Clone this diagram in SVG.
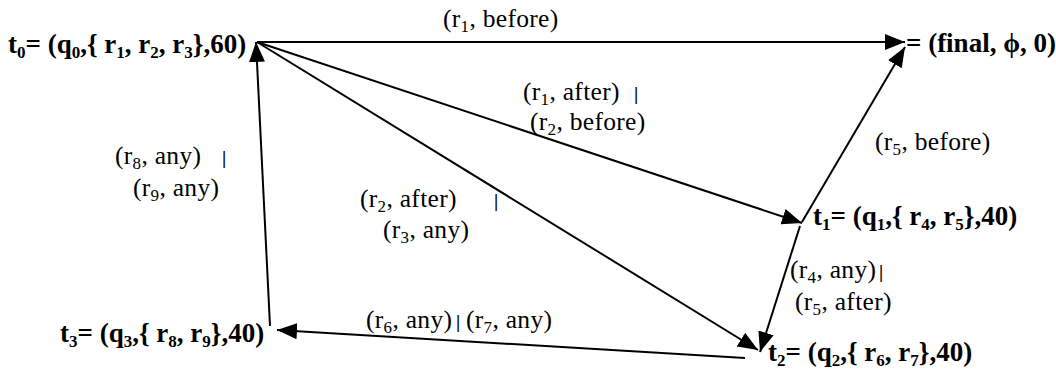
<svg xmlns="http://www.w3.org/2000/svg" width="1056" height="371" viewBox="0 0 1056 371">
<style>
.n{font-family:"Liberation Serif","Times New Roman",serif;font-weight:bold;font-size:27px;fill:#000}
.l{font-family:"Liberation Serif","Times New Roman",serif;font-size:25.5px;letter-spacing:0.3px;fill:#000}
.n .s{font-size:17px}
.l .s{font-size:17px}
.l .b{font-size:19px;font-weight:bold}
.e{stroke:#000;stroke-width:2;fill:none;marker-end:url(#ah)}
</style>
<defs>
<marker id="ah" markerUnits="userSpaceOnUse" markerWidth="22" markerHeight="16" refX="20" refY="8" orient="auto">
<path d="M0,0 L20,8 L0,16 z" fill="#000"/>
</marker>
</defs>
<rect width="1056" height="371" fill="#fff"/>
<g id="edges">
<line class="e" x1="257" y1="42" x2="905" y2="42"/>
<line class="e" x1="257" y1="42" x2="802" y2="223"/>
<line class="e" x1="257" y1="42" x2="758" y2="350"/>
<line class="e" x1="802" y1="222" x2="905" y2="47"/>
<line class="e" x1="800" y1="226" x2="760" y2="352"/>
<line class="e" x1="745" y1="358" x2="277" y2="330"/>
<line class="e" x1="270" y1="326" x2="256" y2="42"/>
<text class="l" x="443" y="27">(r<tspan class="s" dy="5">1</tspan><tspan dy="-5">, before)</tspan></text>
<text class="l" x="523" y="100">(r<tspan class="s" dy="5">1</tspan><tspan dy="-5">, after)</tspan><tspan class="b" x="634">|</tspan></text>
<text class="l" x="530" y="130">(r<tspan class="s" dy="5">2</tspan><tspan dy="-5">, before)</tspan></text>
<text class="l" x="875" y="150">(r<tspan class="s" dy="5">5</tspan><tspan dy="-5">, before)</tspan></text>
<text class="l" x="115" y="164">(r<tspan class="s" dy="5">8</tspan><tspan dy="-5">, any)</tspan><tspan class="b" x="222">|</tspan></text>
<text class="l" x="133" y="196">(r<tspan class="s" dy="5">9</tspan><tspan dy="-5">, any)</tspan></text>
<text class="l" x="360" y="207">(r<tspan class="s" dy="5">2</tspan><tspan dy="-5">, after)</tspan><tspan class="b" x="494">|</tspan></text>
<text class="l" x="383" y="238">(r<tspan class="s" dy="5">3</tspan><tspan dy="-5">, any)</tspan></text>
<text class="l" x="790" y="278">(r<tspan class="s" dy="5">4</tspan><tspan dy="-5">, any)</tspan><tspan class="b" x="879">|</tspan></text>
<text class="l" x="795" y="310">(r<tspan class="s" dy="5">5</tspan><tspan dy="-5">, after)</tspan></text>
<text class="l" x="366" y="328">(r<tspan class="s" dy="5">6</tspan><tspan dy="-5">, any)</tspan><tspan class="b" x="456">|</tspan><tspan x="466">(r</tspan><tspan class="s" dy="5">7</tspan><tspan dy="-5">, any)</tspan></text>
</g>
<g id="t0"><text class="n" x="8" y="53">t<tspan class="s" dy="5">0</tspan><tspan dy="-5">= (q</tspan><tspan class="s" dy="5">0</tspan><tspan dy="-5">,{ r</tspan><tspan class="s" dy="5">1</tspan><tspan dy="-5">, r</tspan><tspan class="s" dy="5">2</tspan><tspan dy="-5">, r</tspan><tspan class="s" dy="5">3</tspan><tspan dy="-5">},60)</tspan></text></g>
<g id="tf"><text class="n" x="906" y="52">= (final, ϕ, 0)</text></g>
<g id="t1"><text class="n" x="813" y="225">t<tspan class="s" dy="5">1</tspan><tspan dy="-5">= (q</tspan><tspan class="s" dy="5">1</tspan><tspan dy="-5">,{ r</tspan><tspan class="s" dy="5">4</tspan><tspan dy="-5">, r</tspan><tspan class="s" dy="5">5</tspan><tspan dy="-5">},40)</tspan></text></g>
<g id="t2"><text class="n" x="768" y="361">t<tspan class="s" dy="5">2</tspan><tspan dy="-5">= (q</tspan><tspan class="s" dy="5">2</tspan><tspan dy="-5">,{ r</tspan><tspan class="s" dy="5">6</tspan><tspan dy="-5">, r</tspan><tspan class="s" dy="5">7</tspan><tspan dy="-5">},40)</tspan></text></g>
<g id="t3"><text class="n" x="60" y="342">t<tspan class="s" dy="5">3</tspan><tspan dy="-5">= (q</tspan><tspan class="s" dy="5">3</tspan><tspan dy="-5">,{ r</tspan><tspan class="s" dy="5">8</tspan><tspan dy="-5">, r</tspan><tspan class="s" dy="5">9</tspan><tspan dy="-5">},40)</tspan></text></g>
</svg>
